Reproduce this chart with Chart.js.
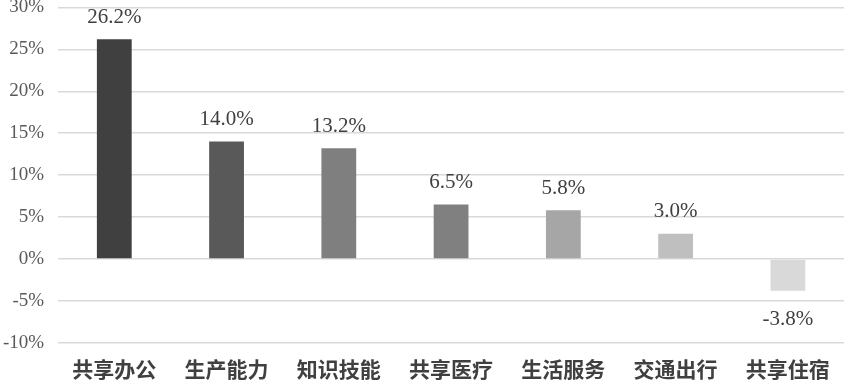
<!DOCTYPE html>
<html><head><meta charset="utf-8">
<script src="https://cdn.jsdelivr.net/npm/chart.js@4"></script>
<style>html,body{margin:0;padding:0;background:#fff;overflow:hidden;}#wrap{width:844px;height:381px;overflow:hidden;}#c{display:block;margin-top:-18px;}</style>
</head><body><div id="wrap"><canvas id="c" width="844" height="399"></canvas></div>
<script>
const categories = ['共享办公','生产能力','知识技能','共享医疗','生活服务','交通出行','共享住宿'];
const values = [26.2, 14.0, 13.2, 6.5, 5.8, 3.0, -3.8];
const barColors = ['#404040','#595959','#7f7f7f','#808080','#a6a6a6','#bfbfbf','#d9d9d9'];
const yMin = -10, yMax = 30, yStep = 5;

const labelPlugin = {
  id: 'valueLabels',
  afterDatasetsDraw(chart) {
    const ctx = chart.ctx;
    const meta = chart.getDatasetMeta(0);
    ctx.save();
    ctx.font = '21px "Liberation Serif", "Times New Roman", serif';
    ctx.fillStyle = '#404040';
    ctx.textAlign = 'center';
    ctx.textBaseline = 'middle';
    meta.data.forEach((bar, i) => {
      const v = values[i];
      const y = v >= 0 ? bar.y - 22 : bar.y + 29;
      ctx.fillText(v.toFixed(1) + '%', bar.x, y);
    });
    ctx.restore();
  }
};

new Chart(document.getElementById('c'), {
  type: 'bar',
  data: {
    labels: categories,
    datasets: [{ data: values, backgroundColor: barColors, barPercentage: 0.31, categoryPercentage: 1.0 }]
  },
  options: {
    responsive: false,
    animation: false,
    layout: { padding: { top: 0, left: -11, right: 0, bottom: -7 } },
    plugins: { legend: { display: false }, tooltip: { enabled: false } },
    scales: {
      x: {
        grid: { display: false },
        border: { display: false },
        ticks: { color: '#404040', padding: 6, maxRotation: 0, font: { family: '"Noto Sans CJK SC", sans-serif', size: 21, weight: 'bold' } }
      },
      y: {
        min: yMin, max: yMax,
        grid: { color: '#d9d9d9', lineWidth: 1.5, drawTicks: false },
        border: { display: false },
        ticks: { stepSize: yStep, color: '#595959', padding: 14, callback: v => v + '%', font: { family: '"Liberation Serif", "Times New Roman", serif', size: 19 } }
      }
    }
  },
  plugins: [labelPlugin]
});
</script></body></html>
